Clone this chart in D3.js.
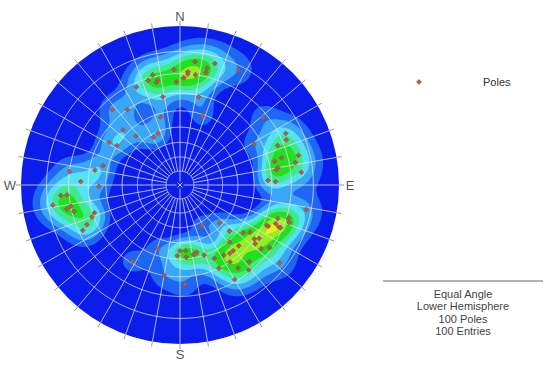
<!DOCTYPE html>
<html>
<head>
<meta charset="utf-8">
<script src="https://cdn.jsdelivr.net/npm/d3@7"></script>
<style>
  body { margin: 0; background: #fff; }
  text { font-family: "Liberation Sans", Arial, sans-serif; }
</style>
</head>
<body>
<svg class="net" width="550" height="369"></svg>
<script>
// pole orientations (trend, plunge in degrees)
const trend = [7, 16, 13, 4, 4, 357, 13, 8, 2, 358, 346, 348, 343, 347, 27, 336, 349, 12,
  318, 325, 344, 18, 314, 318, 331, 337, 301, 302,
  277, 280, 284, 272, 269, 265, 265, 261, 258, 259, 256, 252, 250, 247, 245,
  51, 61, 64, 67, 68, 75, 76, 76, 79, 80, 81, 84, 87, 88,
  101, 109, 107, 115, 115, 112, 109, 113, 113, 133, 127, 124, 126, 124, 139, 136, 128, 125, 128,
  148, 144, 141, 138, 128, 147, 145, 141, 150, 155, 155, 152, 134,
  180, 175, 166, 182, 175, 169, 161, 199, 212, 190, 177]
const plunge = [14, 13, 16, 19, 20, 18, 18, 20, 22, 24, 19, 22, 21, 23, 12, 22, 31, 31,
  25, 30, 42, 41, 37, 45, 52, 51, 35, 40,
  20, 33, 37, 26, 36, 16, 19, 12, 18, 20, 21, 31, 29, 25, 22,
  22, 34, 17, 18, 23, 23, 15, 27, 17, 26, 27, 15, 32, 28,
  12, 24, 19, 28, 27, 24, 18, 22, 21, 44, 37, 34, 30, 28, 39, 34, 28, 21, 24,
  35, 34, 34, 24, 13, 30, 25, 21, 21, 30, 36, 58, 52,
  45, 45, 43, 42, 41, 42, 40, 44, 31, 30, 26]

const compass = [["N", 0], ["E", 90], ["S", 180], ["W", 270]]
const infoLines = ["Equal Angle", "Lower Hemisphere", "100 Poles", "100 Entries"]
const levelColors = ["#1f66f4", "#3aa6f6", "#55e2f2", "#3fe98c", "#22df22", "#93ee22", "#e6f21e"]
const levelFractions = [0.1, 0.2, 0.32, 0.46, 0.61, 0.82, 0.96]

const cx = 180, cy = 185, R = 159
const svg = d3.select("svg.net")

// equal angle, lower hemisphere: stereographic looking down the vertical
const proj = d3.geoStereographic()
  .rotate([0, -90])
  .scale(R)
  .translate([cx, cy])
  .clipAngle(90)
  .precision(0.1)
const path = d3.geoPath(proj)
const toLonLat = (t, p) => [180 - t, p]

const rad = Math.PI / 180
const vec = (t, p) => [Math.cos(p * rad) * Math.sin(t * rad), Math.cos(p * rad) * Math.cos(t * rad), Math.sin(p * rad)]
const poleVecs = trend.map((t, i) => vec(t, plunge[i]))

// fisher density on a pixel grid
const step = 2, n = Math.ceil(2 * R / step) + 2
const x0 = cx - R - step, y0 = cy - R - step
const kappa = 85
const values = new Float64Array(n * n)
for (let j = 0; j < n; j++) {
  for (let i = 0; i < n; i++) {
    const ll = proj.invert([x0 + (i + 0.5) * step, y0 + (j + 0.5) * step])
    const v = vec(180 - ll[0], ll[1])
    let s = 0
    poleVecs.forEach(q => {
      const d = Math.abs(v[0] * q[0] + v[1] * q[1] + v[2] * q[2])
      s += Math.exp(kappa * (d - 1))
    })
    values[j * n + i] = s
  }
}
const maxV = d3.max(values)
const contours = d3.contours()
  .size([n, n])
  .thresholds(levelFractions.map(f => f * maxV))(values)

const gridPath = d3.geoPath(d3.geoTransform({
  point(x, y) { this.stream.point(x0 + x * step, y0 + y * step) }
}))

svg.append("clipPath").attr("id", "disc")
  .append("circle").attr("cx", cx).attr("cy", cy).attr("r", R)

svg.append("circle")
  .attr("cx", cx).attr("cy", cy).attr("r", R)
  .attr("fill", "#0b1deb")

svg.append("g")
  .attr("clip-path", "url(#disc)")
  .selectAll("path")
  .data(contours)
  .enter()
  .append("path")
  .attr("d", gridPath)
  .attr("fill", (d, i) => levelColors[i])

// polar grid
const grid = svg.append("g")
  .attr("fill", "none")
  .attr("stroke", "#e4e4f4")
  .attr("stroke-width", 0.9)
  .attr("stroke-opacity", 0.85)

grid.selectAll("path.ring")
  .data(d3.range(10, 90, 10))
  .enter()
  .append("path")
  .attr("class", "ring")
  .attr("d", c => path(d3.geoCircle().center([0, 90]).radius(c).precision(1)()))

grid.selectAll("path.spoke")
  .data(d3.range(0, 360, 10))
  .enter()
  .append("path")
  .attr("class", "spoke")
  .attr("d", t => path({ type: "LineString", coordinates: [toLonLat(t, 0), toLonLat(t, t % 90 === 0 ? 87.5 : 80)] }))

// center cross
svg.append("path")
  .attr("d", `M${cx - 2.5},${cy - 2.5}L${cx + 2.5},${cy + 2.5}M${cx - 2.5},${cy + 2.5}L${cx + 2.5},${cy - 2.5}`)
  .attr("stroke", "#e4e4f4")
  .attr("stroke-width", 0.9)

// rim ticks
svg.selectAll("line.tick")
  .data(d3.range(0, 360, 10))
  .enter()
  .append("line")
  .attr("class", "tick")
  .attr("x1", t => cx + R * Math.sin(t * rad))
  .attr("y1", t => cy - R * Math.cos(t * rad))
  .attr("x2", t => cx + (R + 5) * Math.sin(t * rad))
  .attr("y2", t => cy - (R + 5) * Math.cos(t * rad))
  .attr("stroke", "#999")
  .attr("stroke-width", 1)

svg.selectAll("text.dir")
  .data(compass)
  .enter()
  .append("text")
  .attr("class", "dir")
  .attr("x", d => cx + (R + 11) * Math.sin(d[1] * rad))
  .attr("y", d => cy - (R + 10) * Math.cos(d[1] * rad))
  .attr("dy", "0.36em")
  .attr("text-anchor", "middle")
  .attr("font-size", 13)
  .attr("fill", "#555")
  .text(d => d[0])

// poles
const marker = d3.symbol().type(d3.symbolSquare).size(12)
svg.append("g")
  .selectAll("path")
  .data(trend.map((t, i) => proj(toLonLat(t, plunge[i]))))
  .enter()
  .append("path")
  .attr("transform", d => `translate(${d[0]},${d[1]}) rotate(45)`)
  .attr("d", marker)
  .attr("fill", "#b55a4c")
  .attr("stroke", "#8a4a40")
  .attr("stroke-width", 0.6)

// legend
svg.append("path")
  .attr("transform", "translate(419,82) rotate(45)")
  .attr("d", marker)
  .attr("fill", "#b55a4c")
  .attr("stroke", "#8a4a40")
  .attr("stroke-width", 0.6)
svg.append("text")
  .attr("x", 483).attr("y", 82).attr("dy", "0.35em")
  .attr("font-size", 11)
  .attr("fill", "#333")
  .text("Poles")

svg.append("line")
  .attr("x1", 383).attr("x2", 543).attr("y1", 281).attr("y2", 281)
  .attr("stroke", "#666").attr("stroke-width", 1)

svg.selectAll("text.info")
  .data(infoLines)
  .enter()
  .append("text")
  .attr("class", "info")
  .attr("x", 463)
  .attr("y", (d, i) => 294 + i * 12.5)
  .attr("dy", "0.35em")
  .attr("text-anchor", "middle")
  .attr("font-size", 11)
  .attr("fill", "#444")
  .text(d => d)
</script>
</body>
</html>
